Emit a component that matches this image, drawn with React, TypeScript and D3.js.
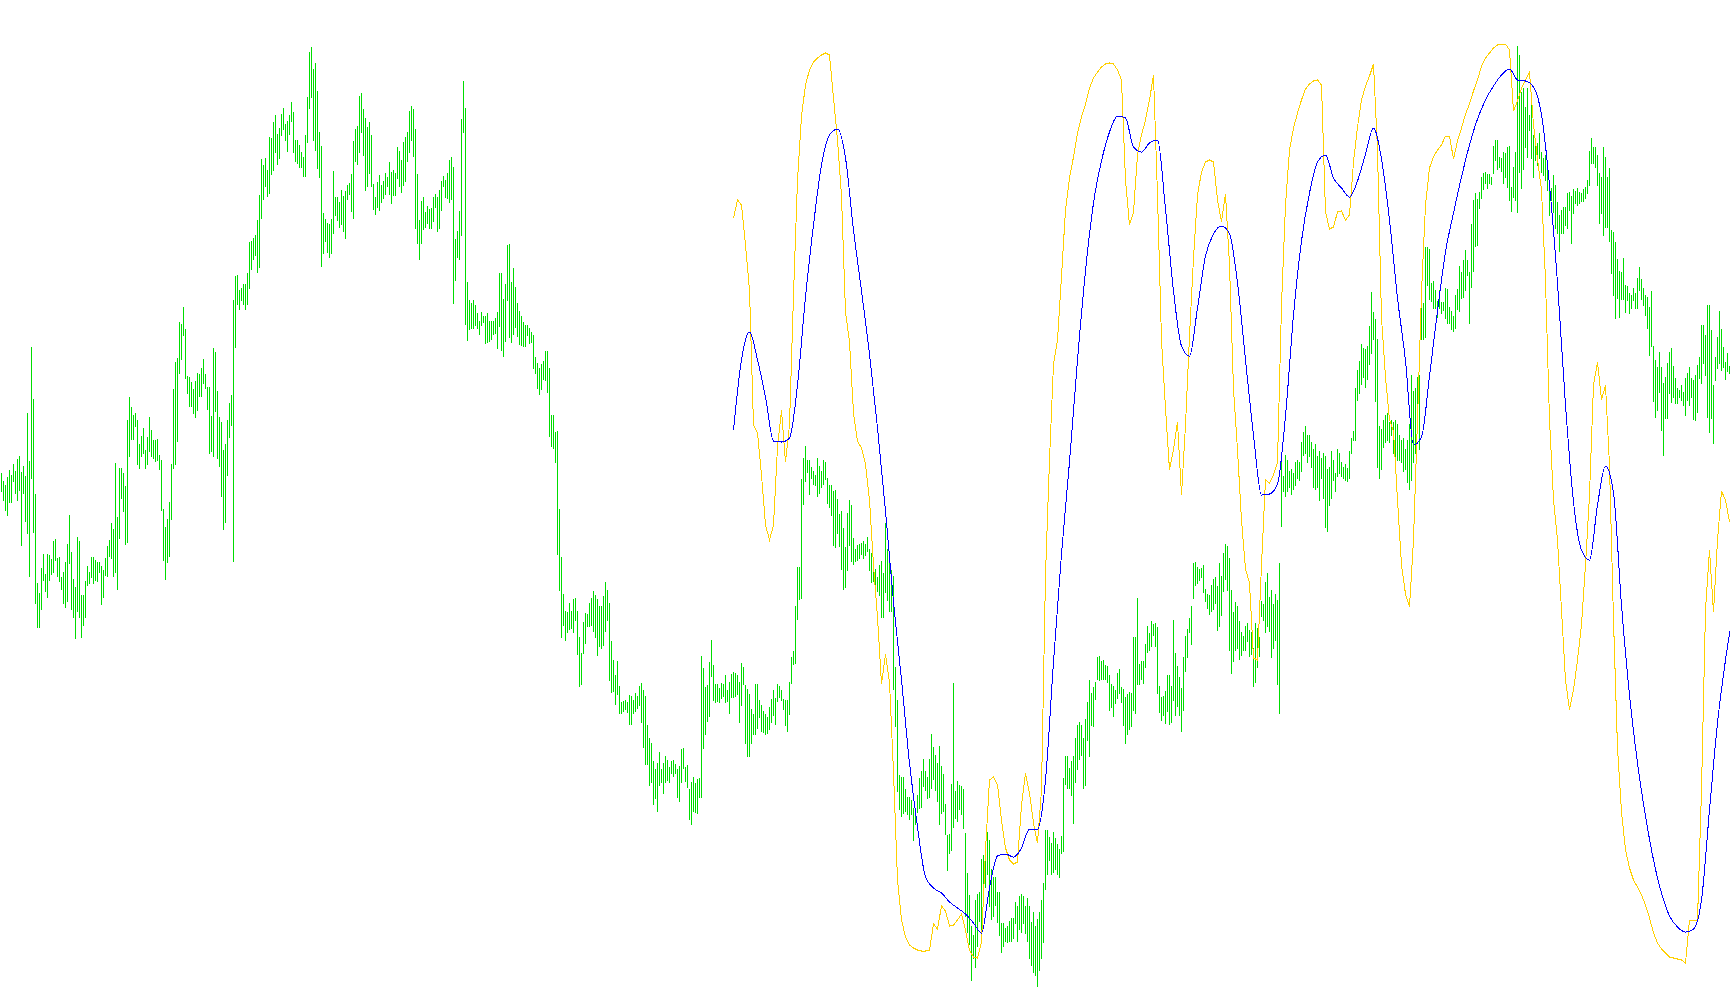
import React from "react";
import * as d3 from "d3";

// Price bars (high / low per bar, in points)
const HIGH: number[] = [
532,524,520,528,535,530,541,534,546,549,533,539,529,592,544,658,606,511,422,412,
437,451,431,451,450,446,464,466,447,448,428,433,443,461,490,453,426,418,468,464,
410,410,424,439,433,448,448,445,443,443,439,435,447,459,465,482,476,542,488,537,
537,532,519,585,608,598,590,592,585,561,569,577,555,568,588,575,565,565,566,550,
545,496,478,486,503,541,616,643,647,683,681,698,676,629,628,623,616,624,632,631,
637,646,631,618,618,589,657,653,614,588,583,555,561,585,602,610,705,729,730,715,
717,721,721,732,763,764,767,770,785,810,846,840,847,835,868,867,883,890,871,877,
891,897,881,884,890,
903,893,865,865,860,853,848,870,908,953,958,936,942,914,873,859,792,786,782,781,
786,834,808,808,803,815,809,814,820,822,831,864,876,879,909,912,896,887,878,883,
870,821,808,823,830,820,824,832,828,843,833,835,832,858,854,845,863,868,873,894,
899,896,876,831,785,804,808,793,799,796,797,808,811,808,815,824,829,825,832,845,
848,838,766,774,794,886,924,897,723,705,702,705,700,692,684,693,689,689,692,684,
684,684,687,693,732,732,706,721,760,761,723,737,718,702,694,689,683,680,680,677,
673,670,648,642,637,641,644,654,654,637,590,590,573,574,496,448,411,394,393,402,
394,406,407,394,368,
352,383,392,391,402,407,414,410,406,399,399,409,423,415,402,364,345,330,344,319,
303,304,305,303,310,309,305,312,309,319,322,315,309,280,267,262,244,236,242,253,
236,242,249,245,238,244,245,241,236,239,256,257,238,240,216,223,228,222,226,227,
349,337,318,320,343,365,340,321,321,317,322,321,330,315,323,331,333,332,330,323,
342,338,320,316,311,296,291,321,321,305,300,294,291,288,298,306,315,307,321,319,
315,306,305,305,323,348,354,399,438,438,526,547,559,545,545,538,534,530,547,539,
534,545,543,527,520,520,514,515,506,491,494,477,458,492,505,500,467,456,460,461,
462,464,461,468,456,
452,447,436,428,440,444,432,482,456,444,435,429,338,305,230,228,228,216,208,208,
205,197,197,210,227,234,246,234,228,246,271,258,250,242,259,239,231,201,170,171,
221,322,214,224,220,219,216,172,132,110,79,70,105,111,113,146,150,145,173,165,
136,128,128,113,113,82,82,77,79,84,87,87,103,99,109,111,109,99,107,99,
83,93,79,86,93,105,122,175,175,168,162,173,167,161,156,169,227,249,249,237,
244,249,267,280,283,280,267,286,303,325,312,318,323,348,349,344,345,340,339,330,
321,319,315,332,336,318,316,308,311,313,312,368,368,407,341,344,344,361,379,372,
384,381,382,378,319,
308,309,314,330,330,319,385,352,339,328,317,348,369,376,387,399,442,443,438,436,
437,440,416,411,410,420,426,428,419,442,429,452,461,459,447,415,393,403,399,384,
373,369,379,382,375,373,357,382,377,368,404,401,423,432,408,415,401,411,405,442,
550,529,550,545,534,536,532,543,545,543,563,573,579,570,570,563,556,561,549,554,
547,552,549,536,538,554,545,532,556,552,543,538,541,537,554,567,574,617,635,644,
661,657,656,659,679,713,693,686,666,579,576,585,590,592,583,585,583,585,581,570,
565,567,556,565,581,630,614,617,628,630,700,702,758,758,756,722,724,715,704,715,
703,703,717,716,698,694,689,710,716,739,733,745,755,745,733,781,805,812,806,813,
828,832,833,831,831,828,859,865,865,848,847,853,852,858,859,818,838,853,959,950,
913,917,898,917,890,900,870,863,862,872,853,847,850,842,823,817,830,820,803,790,
795,798,798,812,813,809,816,814,817,813,812,816,818,825,854,867,858,858,850,832,
828,858,848,828,837,775,773,763,746,734,733,747,720,719,712,710,717,712,727,738,
726,717,710,708,698,714,659,645,638,653,638,622,628,642,653,657,639,627,617,615,
620,613,627,632,638,627,625,630,640,648,680,680,670,700,700,675,620,648,668,694,
676,658,643,652,639
];

const LOW: number[] = [
514,505,495,490,503,503,524,512,505,515,460,512,484,472,429,527,473,402,378,378,
396,425,414,408,425,431,433,445,429,424,416,402,398,404,442,396,388,367,394,388,
368,380,388,420,422,428,422,425,424,433,401,408,430,429,449,447,429,433,416,467,
507,494,461,463,549,566,566,579,541,537,549,552,537,541,554,549,547,544,545,536,
495,445,426,443,449,486,537,541,564,632,646,670,627,612,599,599,592,588,595,609,
609,622,617,596,552,554,549,594,547,539,509,476,483,530,568,580,444,658,701,696,
705,701,696,701,717,736,746,750,733,738,787,806,819,809,812,831,835,853,841,847,
870,876,865,854,871,
884,853,844,842,838,838,829,829,863,897,908,865,855,837,828,739,752,764,753,748,
752,772,790,785,778,781,774,767,806,811,794,787,844,841,853,873,850,815,819,832,
819,796,791,798,795,803,807,811,819,811,802,810,810,827,819,813,820,824,844,853,
865,849,777,762,746,762,776,778,782,777,777,784,798,774,777,795,819,808,807,803,
806,702,725,748,746,770,873,681,665,676,677,677,680,677,671,680,683,662,663,664,
666,671,672,657,679,655,649,664,705,668,663,671,678,669,661,660,659,659,670,662,
663,637,632,617,611,616,626,625,613,569,559,557,543,451,415,368,380,365,373,376,
377,373,385,351,319,
321,352,362,379,379,380,374,368,350,359,357,360,374,385,325,313,314,301,311,292,
292,294,296,293,281,281,292,294,297,300,283,258,241,241,220,223,201,207,194,220,
223,212,223,225,223,232,229,232,208,204,223,237,224,218,186,181,194,193,192,208,
208,257,271,284,289,329,305,303,304,303,307,309,303,304,292,308,308,309,311,283,
300,321,262,249,249,262,271,271,277,288,274,273,271,272,276,283,290,281,304,308,
305,296,280,274,291,322,341,342,386,406,407,501,524,533,511,527,521,520,509,512,
518,521,526,502,498,490,460,458,472,459,436,416,418,435,460,444,441,444,445,447,
451,447,450,454,435,
423,424,416,414,410,388,388,413,405,394,394,316,279,214,196,189,192,194,191,186,
191,165,181,193,197,198,219,215,207,208,217,226,215,204,181,192,194,171,135,152,
155,178,187,184,196,191,177,89,73,61,25,47,38,59,84,67,102,118,131,99,
86,89,100,83,70,53,59,64,63,64,64,67,82,64,76,73,82,72,64,47,
40,33,30,19,35,47,63,116,131,145,131,133,136,131,128,152,154,221,217,217,
210,182,223,236,246,250,217,220,265,249,280,279,306,326,325,326,326,326,323,295,
298,289,302,307,312,303,280,262,271,276,279,295,292,321,321,326,322,338,353,355,
359,370,359,312,293,
285,290,282,294,281,283,305,290,299,290,274,295,334,348,373,361,407,420,422,425,
428,413,404,397,391,394,396,402,375,379,390,414,426,415,355,332,344,355,357,346,
350,355,355,364,349,351,319,323,338,349,389,385,373,379,374,348,357,365,321,292,
479,514,509,514,518,511,516,520,527,525,534,550,552,543,549,538,518,516,518,505,
527,507,478,474,500,507,525,514,529,532,529,527,525,524,527,552,565,565,605,612,
621,628,618,626,641,652,666,604,538,527,536,558,563,565,563,570,552,541,545,545,
543,534,536,523,516,525,543,552,590,556,666,666,668,720,706,704,697,697,688,697,
692,695,687,682,682,676,674,677,696,694,707,708,715,730,682,718,734,759,760,797,
807,816,822,817,822,821,832,845,836,838,834,822,828,818,805,794,808,805,793,833,
817,836,858,848,875,847,828,845,840,847,833,830,825,815,790,805,793,777,772,754,
772,772,780,777,795,762,792,802,800,802,804,804,807,812,820,842,842,838,820,782,
792,770,778,778,764,732,710,687,707,688,706,706,693,705,692,697,705,697,697,715,
706,700,690,677,650,659,604,588,595,613,575,550,587,587,612,603,608,602,602,608,
605,600,590,605,600,608,586,585,593,627,622,642,630,588,573,587,562,625,637,642,
635,638,626,634,632
];

// Indicator lines start at this bar
const LINE_START = 366;

// Yellow indicator, one value every 2 bars
const YELLOW: number[] = [
787,805,800,760,715,580,572,530,480,465,480,558,595,543,580,710,825,889,920,935,
943,947,950,952,950,907,865,809,693,663,592,564,557,541,505,440,388,321,351,323,
233,125,85,68,60,57,55,54,54,55,81,76,99,94,79,80,85,91,75,55,
48,47,63,155,225,228,220,185,157,145,141,143,200,232,212,182,162,215,430,545,
641,665,729,795,827,848,872,888,901,917,927,933,938,941,942,941,935,925,825,780,
793,850,870,885,905,930,810,665,597,535,555,583,510,580,669,747,810,833,843,845,
843,805,783,811,740,616,555,485,436,422,347,345,440,525,522,530,543,700,800,855,
877,892,905,916,921,924,925,920,793,776,778,793,794,785,790,843,878,905,919,929,
941,855,687,628,585,574,505,440,411,398,465,585,713,800,837,848,855,860,869,869,
846,864,877,891,901,914,925,939,947,952,957,960,961,961,955,894,904,917,925,933,
880,846,815,725,585,505,465,395,325,295,315,345,380,440,510,620,643,605,620,540,
385,257,193,155,137,125,118,110,100,87,72,62,56,52,48,47,46,45,42,85,
85,85,215,395,455,393,465,514,505,483
];

// Blue indicator, one value every 4 bars
const BLUE: number[] = [
575,645,673,645,608,564,563,567,620,708,780,840,870,876,847,775,714,651,577,494,
403,325,242,178,128,117,112,103,97,91,82,72,117,149,151,148,157,176,176,225,
343,451,543,645,734,802,844,873,889,887,858,853,862,865,796,714,659,649,697,749,
771,779,771,722,645,570,510,511,521,589,690,764,812,843,850,827,817,808,824,851,
877,846,785,707,644,560,568,629,694,753,792,828,860,886,905,919,930,936,925,924,
918,890,820,722,600,503,455,445,500,539,512,400,310,242,189,145,112,89,78,73,
76,105,195,282,345,395
];

const W = 1730;
const H = 1005;

export default function App() {
  const x = d3.scaleLinear().domain([0, HIGH.length]).range([1, 1 + 2 * HIGH.length]);
  const y = d3.scaleLinear().domain([0, H]).range([H, 0]);

  const barPath = HIGH.map((h, k) => {
    const xx = x(k) + 0.5;
    return `M${xx},${y(h)}V${y(LOW[k]) + 1}`;
  }).join("");

  const yellowPts: [number, number][] = YELLOW.map((v, i) => [LINE_START + 2 * i, v]);
  const bluePts: [number, number][] = BLUE.map((v, i) => [LINE_START + 4 * i, v]);

  const lineLinear = d3.line<[number, number]>()
    .x((d) => x(d[0]) + 0.5)
    .y((d) => y(d[1]))
    .curve(d3.curveLinear);
  const lineSmooth = d3.line<[number, number]>()
    .x((d) => x(d[0]) + 0.5)
    .y((d) => y(d[1]))
    .curve(d3.curveMonotoneX);

  return (
    <svg
      width={W}
      height={H}
      style={{ position: "absolute", left: 0, top: 0, background: "#ffffff", display: "block" }}
    >
      <rect x={0} y={0} width={W} height={H} fill="#ffffff" />
      <path d={barPath} stroke="#00dd00" strokeWidth={1} fill="none" shapeRendering="crispEdges" />
      <path d={lineLinear(yellowPts) || ""} stroke="#ffd000" strokeWidth={1} fill="none" shapeRendering="crispEdges" />
      <path d={lineSmooth(bluePts) || ""} stroke="#0000ff" strokeWidth={1} fill="none" shapeRendering="crispEdges" />
    </svg>
  );
}
